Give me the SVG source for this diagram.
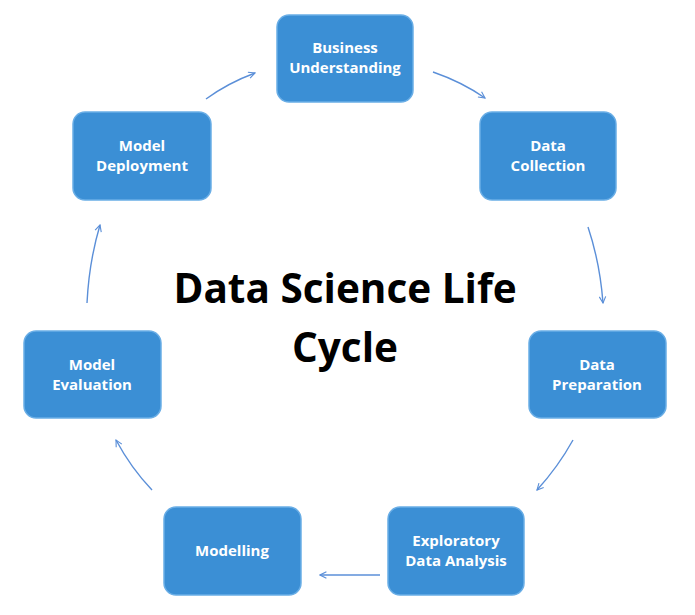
<svg xmlns="http://www.w3.org/2000/svg" width="695" height="615" viewBox="0 0 695 615">
<defs>
<style>
.box{fill:#3b8fd5;stroke:#6aaee6;stroke-width:1.5}
.lbl{font-family:"Open Sans","Liberation Sans",sans-serif;font-weight:bold;font-size:15px;fill:#ffffff;text-anchor:middle}
.title{font-family:"Open Sans","Liberation Sans",sans-serif;font-weight:bold;font-size:40.5px;fill:#000000;text-anchor:middle}
.arr{fill:none;stroke:#5b8fd8;stroke-width:1.4;marker-end:url(#ah)}
</style>
<marker id="ah" viewBox="0 0 10 10" refX="9" refY="5" markerWidth="8" markerHeight="8" orient="auto" markerUnits="userSpaceOnUse">
<path d="M1,1 L9,5 L1,9" fill="none" stroke="#5b8fd8" stroke-width="1.4"/>
</marker>
</defs>
<rect width="695" height="615" fill="#ffffff"/>
<g id="title">
<text class="title" x="345" y="303">Data Science Life</text>
<text class="title" x="345" y="362">Cycle</text>
</g>
<g id="connectors">
<path class="arr" d="M206,99 Q228,83 255,73"/>
<path class="arr" d="M433,72 Q462,82 485,98"/>
<path class="arr" d="M588,227 Q600,263 603,303"/>
<path class="arr" d="M573,440 Q558,467 537,490"/>
<path class="arr" d="M380,575 L320,575"/>
<path class="arr" d="M152,490 Q131,468 116,440"/>
<path class="arr" d="M87,303 Q89,262 100,225"/>
</g>
<g id="business-understanding">
<rect class="box" x="277" y="15" width="136" height="87" rx="12"/>
<text class="lbl" x="345" y="53">Business</text>
<text class="lbl" x="345" y="73">Understanding</text>
</g>
<g id="data-collection">
<rect class="box" x="480" y="112" width="136" height="88" rx="12"/>
<text class="lbl" x="548" y="151">Data</text>
<text class="lbl" x="548" y="171">Collection</text>
</g>
<g id="data-preparation">
<rect class="box" x="529" y="331" width="137" height="87" rx="12"/>
<text class="lbl" x="597" y="370">Data</text>
<text class="lbl" x="597" y="390">Preparation</text>
</g>
<g id="exploratory-data-analysis">
<rect class="box" x="388" y="507" width="136" height="88" rx="12"/>
<text class="lbl" x="456" y="546">Exploratory</text>
<text class="lbl" x="456" y="566">Data Analysis</text>
</g>
<g id="modelling">
<rect class="box" x="164" y="507" width="137" height="88" rx="12"/>
<text class="lbl" x="232" y="556">Modelling</text>
</g>
<g id="model-evaluation">
<rect class="box" x="24" y="331" width="137" height="87" rx="12"/>
<text class="lbl" x="92" y="370">Model</text>
<text class="lbl" x="92" y="390">Evaluation</text>
</g>
<g id="model-deployment">
<rect class="box" x="73" y="112" width="138" height="88" rx="12"/>
<text class="lbl" x="142" y="151">Model</text>
<text class="lbl" x="142" y="171">Deployment</text>
</g>
</svg>
